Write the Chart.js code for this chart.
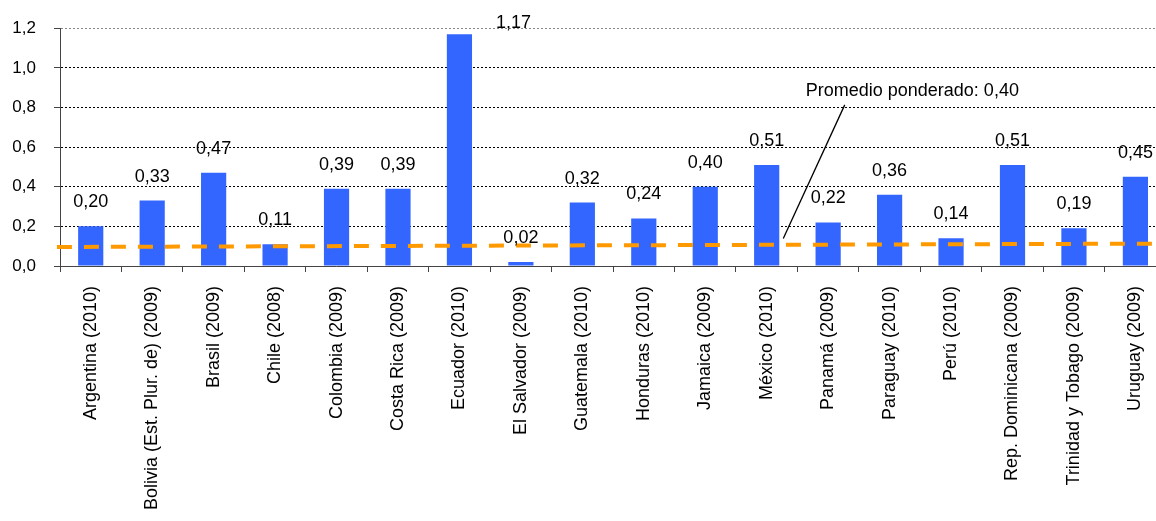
<!DOCTYPE html>
<html>
<head>
<meta charset="utf-8">
<script src="https://cdn.jsdelivr.net/npm/chart.js@4/dist/chart.umd.min.js"></script>
<style>
  html, body { margin: 0; padding: 0; background: #fff; overflow: hidden; }
  #wrap { width: 1156px; height: 521px; overflow: hidden; }
</style>
</head>
<body>
<div id="wrap">
  <canvas id="myChart" width="1171" height="521"></canvas>
</div>
<script>
// Bring in data
const paises = ['Argentina (2010)', 'Bolivia (Est. Plur. de) (2009)', 'Brasil (2009)', 'Chile (2008)',
  'Colombia (2009)', 'Costa Rica (2009)', 'Ecuador (2010)', 'El Salvador (2009)', 'Guatemala (2010)',
  'Honduras (2010)', 'Jamaica (2009)', 'México (2010)', 'Panamá (2009)', 'Paraguay (2010)',
  'Perú (2010)', 'Rep. Dominicana (2009)', 'Trinidad y Tobago (2009)', 'Uruguay (2009)'];
const valores = [0.20, 0.33, 0.47, 0.11, 0.39, 0.39, 1.17, 0.02, 0.32, 0.24, 0.40, 0.51, 0.22, 0.36, 0.14, 0.51, 0.19, 0.45];
// dashed reference line, start and end
const lineaPromedio = [{ x: -0.05, y: 0.096 }, { x: 18, y: 0.113 }];
// leader line from the note down to the dashed line
const lineaNota = [{ x: 11.77, y: 0.139 }, { x: 12.77, y: 0.813 }];
const nota = { texto: 'Promedio ponderado: 0,40', x: 13.87, y: 0.883 };
const yTicks = [0, 0.2, 0.4, 0.6, 0.8, 1.0, 1.2];

const fmt = v => v.toFixed(2).replace('.', ',');

const etiquetas = {
  id: 'etiquetas',
  afterDatasetsDraw(chart) {
    const ctx = chart.ctx;
    const meta = chart.getDatasetMeta(2);
    const xs = chart.scales.x;
    const paso = xs.getPixelForValue(1) - xs.getPixelForValue(0);
    ctx.save();
    ctx.font = '18px "Liberation Sans", Arial, sans-serif';
    ctx.fillStyle = '#000';
    ctx.textAlign = 'center';
    ctx.textBaseline = 'middle';
    meta.data.forEach((bar, i) => {
      let x = bar.x, y = bar.y - 24;
      // label that would go above the plot is moved to the right of the bar
      if (y < chart.chartArea.top) { x += paso * 0.88; y = bar.y - 11; }
      ctx.fillText(fmt(valores[i]), x, y);
    });
    // note text
    ctx.fillText(nota.texto, chart.scales.x2.getPixelForValue(nota.x), chart.scales.y.getPixelForValue(nota.y));
    ctx.restore();
  }
};

new Chart(document.getElementById('myChart'), {
  type: 'bar',
  data: {
    labels: paises,
    datasets: [
      {
        type: 'line',
        data: lineaPromedio,
        xAxisID: 'x2',
        borderColor: '#FF9900',
        borderWidth: 4,
        borderDash: [15, 12],
        pointRadius: 0,
        clip: false,
        order: 0
      },
      {
        type: 'line',
        data: lineaNota,
        xAxisID: 'x2',
        borderColor: '#000',
        borderWidth: 1.3,
        pointRadius: 0,
        order: 0
      },
      {
        label: 'valores',
        data: valores,
        xAxisID: 'x',
        backgroundColor: '#3366FF',
        barPercentage: 0.41,
        categoryPercentage: 1,
        grouped: false,
        order: 1
      }
    ]
  },
  options: {
    responsive: false,
    animation: false,
    devicePixelRatio: 1,
    layout: { padding: { top: 24, right: 0, left: 0, bottom: 0 } },
    plugins: { legend: { display: false }, tooltip: { enabled: false } },
    scales: {
      x: {
        grid: { drawOnChartArea: false, drawTicks: true, tickLength: 6, color: '#444' },
        border: { color: '#444' },
        ticks: {
          minRotation: 90, maxRotation: 90, autoSkip: false, padding: 14, color: '#000',
          font: { family: '"Liberation Sans", Arial, sans-serif', size: 18 }
        },
        afterFit: s => { s.height = 255; }
      },
      x2: { type: 'linear', display: false, offset: false, min: 0, max: 18 },
      y: {
        min: 0, max: 1.2,
        afterBuildTicks: s => { s.ticks = yTicks.map(v => ({ value: v })); },
        ticks: {
          padding: 18, color: '#000',
          font: { family: '"Liberation Sans", Arial, sans-serif', size: 17 },
          callback: v => v.toFixed(1).replace('.', ',')
        },
        grid: {
          color: c => (c.tick && c.tick.value === 1.2) ? '#888' : '#000',
          tickLength: 6, tickColor: '#444', tickBorderDash: []
        },
        border: { color: '#444', dash: [2, 2] },
        afterFit: s => { s.width = 60; }
      }
    }
  },
  plugins: [etiquetas]
});
</script>
</body>
</html>
